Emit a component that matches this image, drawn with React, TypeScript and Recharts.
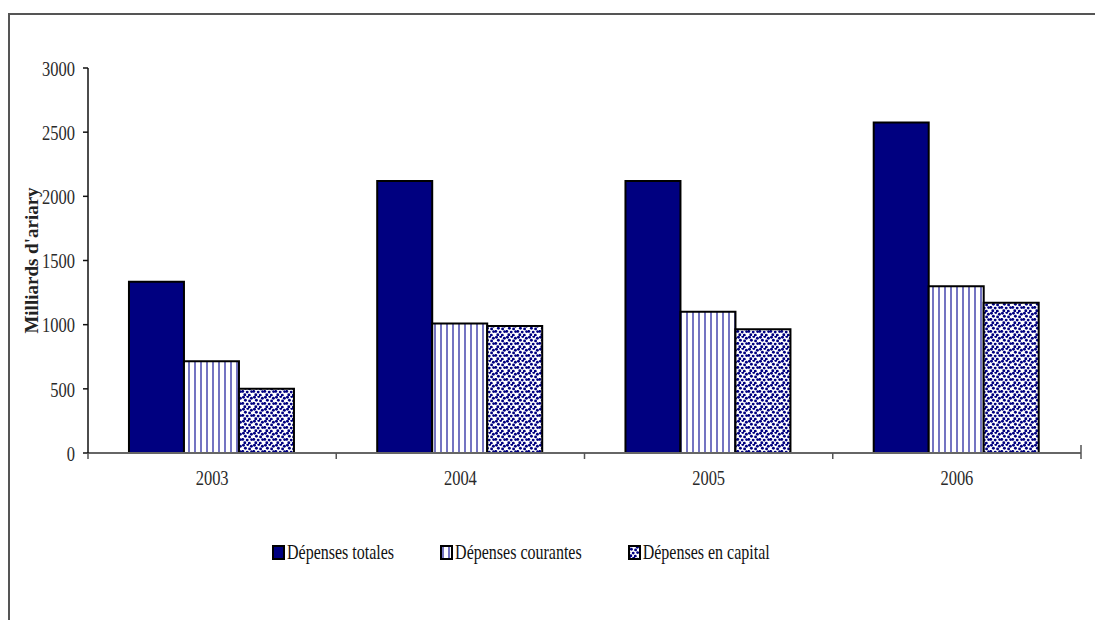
import React from 'react';
import { Bar, BarChart, Label, XAxis, YAxis } from 'recharts';

// Dépenses publiques, en milliards d'ariary
const years = ['2003', '2004', '2005', '2006'];
const depensesTotales = [1335, 2120, 2120, 2575];
const depensesCourantes = [715, 1010, 1100, 1300];
const depensesCapital = [500, 990, 965, 1170];
const yTicks = [0, 500, 1000, 1500, 2000, 2500, 3000];

const seriesLabels = ['Dépenses totales', 'Dépenses courantes', 'Dépenses en capital'];

const W = 1095;
const H = 620;
const MARGIN = { top: 68, right: 14, bottom: 127, left: 0 };
const Y_AXIS_W = 88;
const PLOT_W = W - MARGIN.left - MARGIN.right - Y_AXIS_W;
const BAND = PLOT_W / years.length;

const NAVY = '#000080';
const FONT = '"Liberation Serif", "Times New Roman", serif';
// the scanned labels come out tall and narrow
const TEXT_STRETCH = 1.33;

const chartData = years.map((year, i) => ({
  year,
  totales: depensesTotales[i],
  courantes: depensesCourantes[i],
  capital: depensesCapital[i],
}));

// hand-placed dots so the texture doesn't look like a regular grid
const DOTS: [number, number][] = [
  [1.5, 1.2], [5.8, 0.6], [9.4, 2.2], [3.4, 4.2], [7.6, 4.9], [0.8, 7.4], [5.2, 8.1],
  [9.6, 7.6], [2.8, 10.8], [7.3, 11.2],
];

function Patterns({ prefix }: { prefix: string }) {
  return (
    <defs>
      <pattern id={`${prefix}-stripes`} width={6} height={6} patternUnits="userSpaceOnUse">
        <rect width={6} height={6} fill="#ffffff" />
        <rect x={2.2} width={1.6} height={6} fill="#5252b4" />
      </pattern>
      <pattern id={`${prefix}-dots`} width={11} height={12} patternUnits="userSpaceOnUse">
        <rect width={11} height={12} fill="#ffffff" />
        {DOTS.map(([cx, cy]) => (
          <circle key={`${cx}-${cy}`} cx={cx} cy={cy} r={1.45} fill={NAVY} />
        ))}
      </pattern>
    </defs>
  );
}

function YTick({ x, y, payload }: any) {
  return (
    <text
      transform={`translate(${x},${y}) scale(1,${TEXT_STRETCH})`}
      textAnchor="end"
      dy="0.35em"
      fontFamily={FONT}
      fontSize={16.5}
      fill="#2a2a2a"
    >
      {payload.value}
    </text>
  );
}

// Category label in the middle of the band, tick marks on the band edges
function XTick({ x, y, payload, index }: any) {
  const left = x - BAND / 2;
  return (
    <g>
      <line x1={left} y1={y} x2={left} y2={y + 6} stroke="#555" strokeWidth={1.5} />
      {index === years.length - 1 && (
        <line x1={left + BAND} y1={y - 8} x2={left + BAND} y2={y + 6} stroke="#555" strokeWidth={1.5} />
      )}
      <text
        transform={`translate(${x},${y + 24}) scale(1,${TEXT_STRETCH})`}
        textAnchor="middle"
        dy="0.35em"
        fontFamily={FONT}
        fontSize={16.5}
        fill="#2a2a2a"
      >
        {payload.value}
      </text>
    </g>
  );
}

function Swatch({ fill, id }: { fill: string; id: string }) {
  return (
    <svg width={13} height={15} style={{ display: 'block' }}>
      <Patterns prefix={id} />
      <rect x={1} y={1} width={11} height={13} fill={fill} stroke="#000" strokeWidth={2} />
    </svg>
  );
}

function ChartLegend() {
  const fills = [NAVY, 'url(#lg-stripes)', 'url(#lg-dots)'];
  return (
    <div
      style={{
        position: 'absolute',
        left: 272,
        top: 543,
        display: 'flex',
        alignItems: 'center',
        gap: 46,
        fontFamily: FONT,
        fontSize: 16,
        color: '#111',
      }}
    >
      {seriesLabels.map((label, i) => (
        <div key={label} style={{ display: 'flex', alignItems: 'center', gap: 2 }}>
          <Swatch fill={fills[i]} id="lg" />
          <span style={{ display: 'inline-block', transform: `scaleY(${TEXT_STRETCH})`, whiteSpace: 'nowrap' }}>
            {label}
          </span>
        </div>
      ))}
    </div>
  );
}

export default function App() {
  return (
    <div style={{ position: 'fixed', left: 0, top: 0, width: W, height: H, overflow: 'hidden', background: '#fff' }}>
      {/* page frame, open to the right and bottom */}
      <div
        style={{
          position: 'absolute',
          left: 8,
          top: 13,
          width: W + 20,
          height: H + 20,
          borderLeft: '2px solid #555',
          borderTop: '2px solid #555',
        }}
      />
      <div style={{ position: 'absolute', left: 0, top: 0 }}>
        <BarChart width={W} height={H} data={chartData} margin={MARGIN} barCategoryGap="16.5%" barGap={0}>
          <Patterns prefix="bar" />
          <XAxis
            dataKey="year"
            height={40}
            axisLine={{ stroke: '#666', strokeWidth: 2 }}
            tickLine={false}
            tickSize={0}
            tickMargin={0}
            interval={0}
            tick={<XTick />}
          />
          <YAxis
            width={Y_AXIS_W}
            domain={[0, 3000]}
            ticks={yTicks}
            interval={0}
            axisLine={{ stroke: '#111', strokeWidth: 1.5 }}
            tickLine={{ stroke: '#111', strokeWidth: 1.5 }}
            tickSize={5}
            tickMargin={8}
            tick={<YTick />}
          >
            <Label
              content={({ viewBox }: any) => (
                <text
                  transform={`translate(${viewBox.x + 31},${viewBox.y + viewBox.height / 2}) rotate(-90)`}
                  textAnchor="middle"
                  dy="0.35em"
                  fontFamily={FONT}
                  fontSize={19}
                  fontWeight="bold"
                  fill="#222"
                >
                  Milliards d'ariary
                </text>
              )}
            />
          </YAxis>
          <Bar dataKey="totales" fill={NAVY} stroke="#000" strokeWidth={2} isAnimationActive={false} />
          <Bar dataKey="courantes" fill="url(#bar-stripes)" stroke="#000" strokeWidth={2} isAnimationActive={false} />
          <Bar dataKey="capital" fill="url(#bar-dots)" stroke="#000" strokeWidth={2} isAnimationActive={false} />
        </BarChart>
      </div>
      <ChartLegend />
    </div>
  );
}
